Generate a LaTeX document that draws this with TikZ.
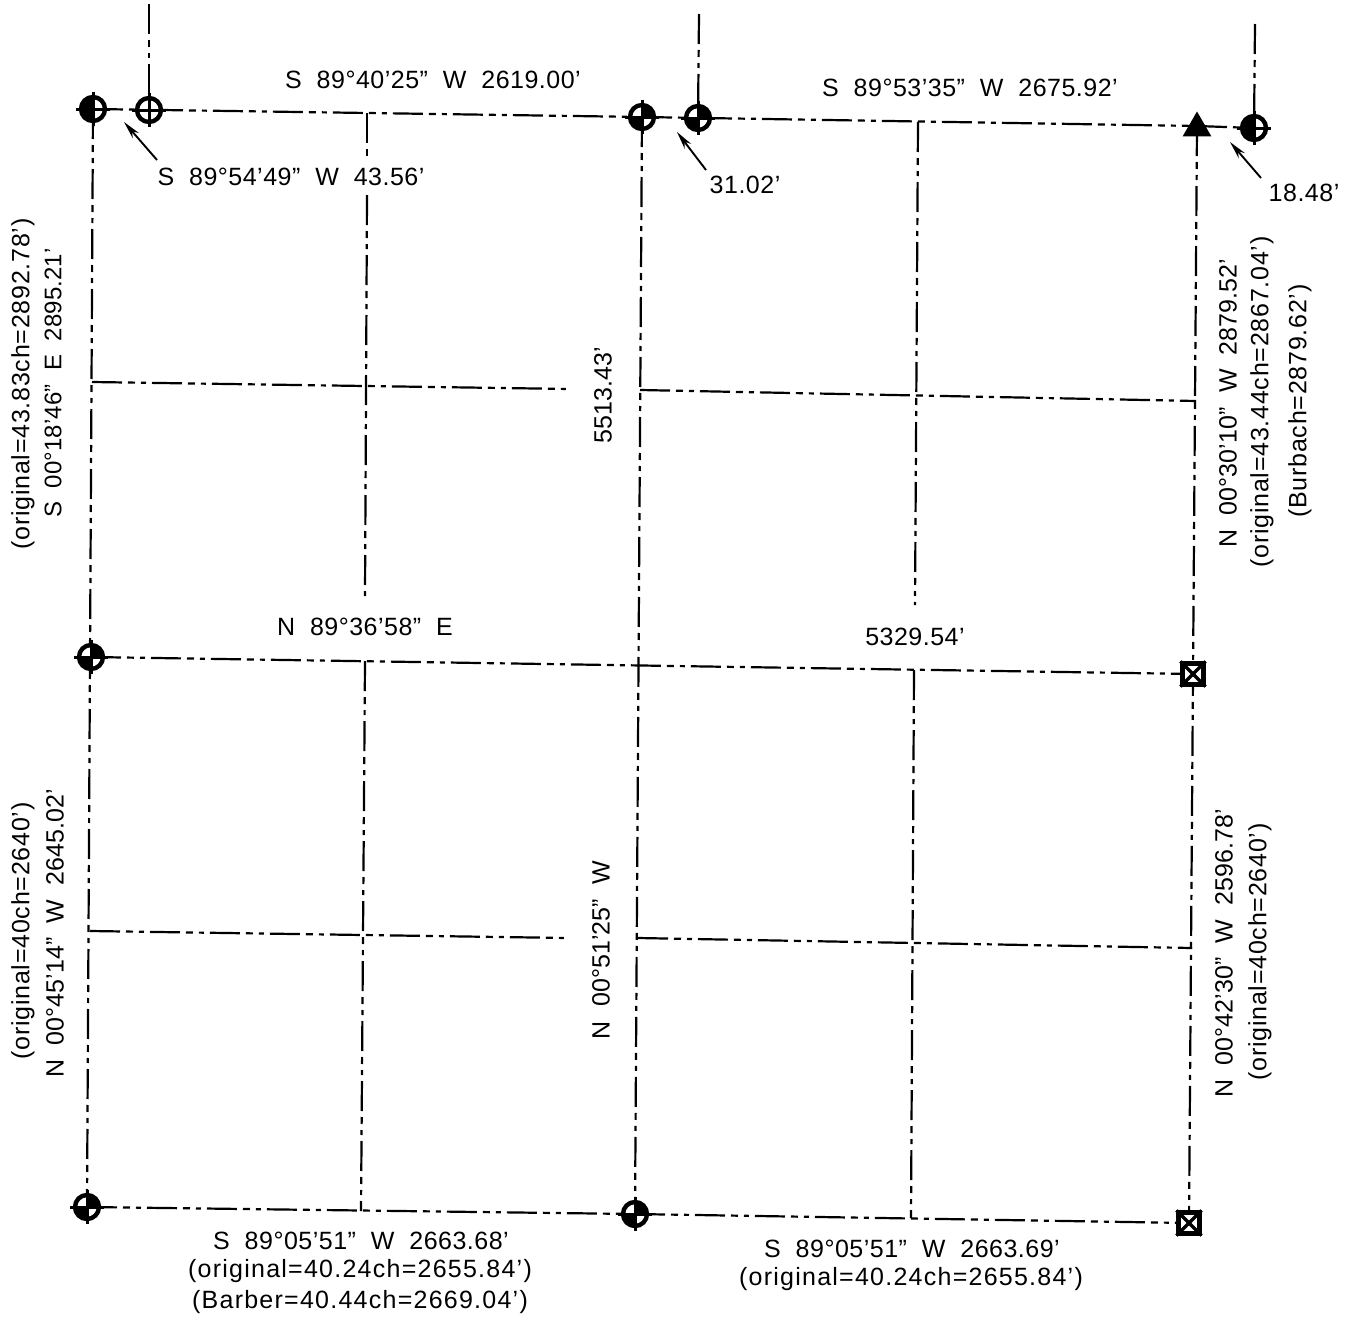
\documentclass[tikz,border=0pt]{standalone}
\usepackage{fontspec}
\setmainfont[LetterSpace=2]{Liberation Sans}
\newfontfamily\widefont[Ligatures=TeX,LetterSpace=5]{Liberation Sans}
\newfontfamily\tallfont[Ligatures=TeX,LetterSpace=3]{Liberation Sans}
\newfontfamily\slimfont[Ligatures=TeX,LetterSpace=0.5]{Liberation Sans}
\usetikzlibrary{arrows.meta,shapes.geometric}
\tikzset{
  survey/.style={line width=2.2pt,dash pattern=on 30pt off 6pt on 7pt off 6pt on 5pt off 6pt},
  lbl/.style={inner sep=0pt,font=\fontsize{25}{27}\selectfont},
  note/.style={inner sep=0pt,font=\fontsize{25}{27}\widefont},
  vlbl/.style={inner sep=0pt,rotate=90,font=\fontsize{25}{27}\slimfont},
  vnote/.style={inner sep=0pt,rotate=90,font=\fontsize{25}{27}\tallfont},
  mon/.style={circle,draw,line width=4.4pt,minimum size=24pt,inner sep=0pt,fill=white},
  monB/.style={mon,path picture={\fill[black] (path picture bounding box.center) rectangle (path picture bounding box.north east);
    \fill[black] (path picture bounding box.center) rectangle (path picture bounding box.south west);}},
  monC/.style={mon,path picture={\fill[black] (path picture bounding box.north) rectangle (path picture bounding box.south west);}},
  stone/.style={rectangle,draw,line width=4.2pt,minimum size=21pt,inner sep=0pt,fill=white},
  leader/.style={line width=1.9pt,-{Stealth[length=18pt,width=8pt]}},
}
\begin{document}
\begin{tikzpicture}[x=1pt,y=-1pt]
  \useasboundingbox (0,0) rectangle (1357,1317);
  % section corners
  \coordinate (nwc) at (93,109);  \coordinate (nwo) at (149,110);
  \coordinate (nc) at (642,117);  \coordinate (nco) at (698,118);
  \coordinate (nec) at (1197,126); \coordinate (neo) at (1254,128);
  \coordinate (wc) at (91,657);   \coordinate (cc) at (639,665);  \coordinate (ec) at (1193,674);
  \coordinate (swc) at (87,1207); \coordinate (sc) at (635,1214); \coordinate (sec) at (1189,1223);
  % free ends
  \coordinate (stubA) at (149,4);  \coordinate (stubB) at (699,14);  \coordinate (stubC) at (1255,24);
  \coordinate (qa1) at (367,113);  \coordinate (qa2) at (367,159);  \coordinate (qa3) at (367,195);
  \coordinate (qa4) at (365,596);  \coordinate (qa5) at (365,661);  \coordinate (qa6) at (361,1211);
  \coordinate (qb1) at (918,122);  \coordinate (qb2) at (915,605);
  \coordinate (qb3) at (914,670);  \coordinate (qb4) at (911,1218);
  \coordinate (ha1) at (92,382);   \coordinate (ha2) at (570,389);
  \coordinate (ha3) at (640,390);  \coordinate (ha4) at (1196,401);
  \coordinate (hb1) at (90,931);   \coordinate (hb2) at (568,938);
  \coordinate (hb3) at (638,938);  \coordinate (hb4) at (1192,948);
  \coordinate (tailA) at (157,160); \coordinate (headA) at (124,122);
  \coordinate (tailB) at (706,170); \coordinate (headB) at (677,132);
  \coordinate (tailC) at (1261,178); \coordinate (headC) at (1230,142);
  % boundary and centre lines
  \draw[survey] (nwc) -- (nc);
  \draw[survey] (nc) -- (nec);
  \draw[survey] (nec) -- (neo);
  \draw[survey] (wc) -- (ec);
  \draw[survey] (swc) -- (sc);
  \draw[survey] (sc) -- (sec);
  \draw[survey] (nwc) -- (swc);
  \draw[survey] (nc) -- (sc);
  \draw[survey] (nec) -- (sec);
  \draw[survey] (stubA) -- (nwo);
  \draw[survey] (stubB) -- (nco);
  \draw[survey] (stubC) -- (neo);
  % quarter lines
  \draw[survey] (qa1) -- (qa2);
  \draw[survey] (qa3) -- (qa4);
  \draw[survey] (qa5) -- (qa6);
  \draw[survey] (qb1) -- (qb2);
  \draw[survey] (qb3) -- (qb4);
  \draw[survey] (ha1) -- (ha2);
  \draw[survey] (ha3) -- (ha4);
  \draw[survey] (hb1) -- (hb2);
  \draw[survey] (hb3) -- (hb4);
  % leaders
  \draw[leader] (tailA) -- (headA);
  \draw[leader] (tailB) -- (headB);
  \draw[leader] (tailC) -- (headC);
  % monuments
  \node[monC] (mnw) at (nwc) {};
  \node[mon] (mnwo) at (nwo) {};
  \node[monB] (mn) at (nc) {};
  \node[monB] (mno) at (nco) {};
  \node[monC] (mne) at (neo) {};
  \node[monB] (mw) at (wc) {};
  \node[monB] (msw) at (swc) {};
  \node[monB] (ms) at (sc) {};
  \foreach \m in {mnw,mnwo,mn,mno,mne,mw,msw,ms}{
    \draw[line width=3pt] (\m.center) ++(-17,0) -- ++(34,0);
    \draw[line width=3pt] (\m.center) ++(0,-17) -- ++(0,34);
  }
  \node[regular polygon,regular polygon sides=3,fill=black,minimum size=33pt,inner sep=0pt] (tri) at (1197,128) {};
  \foreach \m/\p in {se1/ec,se2/sec}{
    \node[stone] (\m) at (\p) {};
    \draw[line width=3.4pt] (\m.north west) -- (\m.south east);
    \draw[line width=3.4pt] (\m.north east) -- (\m.south west);
  }
  % labels
  \node[lbl] (t1) at (433,80) {S~~89°40'25"~~W~~2619.00'};
  \node[lbl] (t2) at (970,88) {S~~89°53'35"~~W~~2675.92'};
  \node[lbl] (t3) at (291,177) {S~~89°54'49"~~W~~43.56'};
  \node[lbl] (t4) at (745,185) {31.02'};
  \node[lbl] (t5) at (1304,193) {18.48'};
  \node[lbl] (t6) at (365,627) {N~~89°36'58"~~E};
  \node[lbl] (t7) at (915,637) {5329.54'};
  \node[lbl] (t8) at (361,1241) {S~~89°05'51"~~W~~2663.68'};
  \node[note] (t9) at (360,1271) {(original=40.24ch=2655.84')};
  \node[note] (t10) at (360,1302) {(Barber=40.44ch=2669.04')};
  \node[lbl] (t11) at (912,1249) {S~~89°05'51"~~W~~2663.69'};
  \node[note] (t12) at (911,1279) {(original=40.24ch=2655.84')};
  \node[vnote] (v1) at (23,384) {(original=43.83ch=2892.78')};
  \node[vlbl,font=\fontsize{24}{26}\slimfont] (v2) at (53,383) {S~~00°18'46"~~E~~2895.21'};
  \node[vnote] (v3) at (23,931) {(original=40ch=2640')};
  \node[vlbl] (v4) at (55,933) {N~~00°45'14"~~W~~2645.02'};
  \node[vlbl] (v5) at (603,395) {5513.43'};
  \node[vlbl] (v6) at (601,950) {N~~00°51'25"~~W};
  \node[vlbl] (v7) at (1228,403) {N~~00°30'10"~~W~~2879.52'};
  \node[vnote] (v8) at (1262,402) {(original=43.44ch=2867.04')};
  \node[vnote] (v9) at (1300,401) {(Burbach=2879.62')};
  \node[vlbl] (v10) at (1224,953) {N~~00°42'30"~~W~~2596.78'};
  \node[vnote] (v11) at (1260,952) {(original=40ch=2640')};
\end{tikzpicture}
\end{document}
